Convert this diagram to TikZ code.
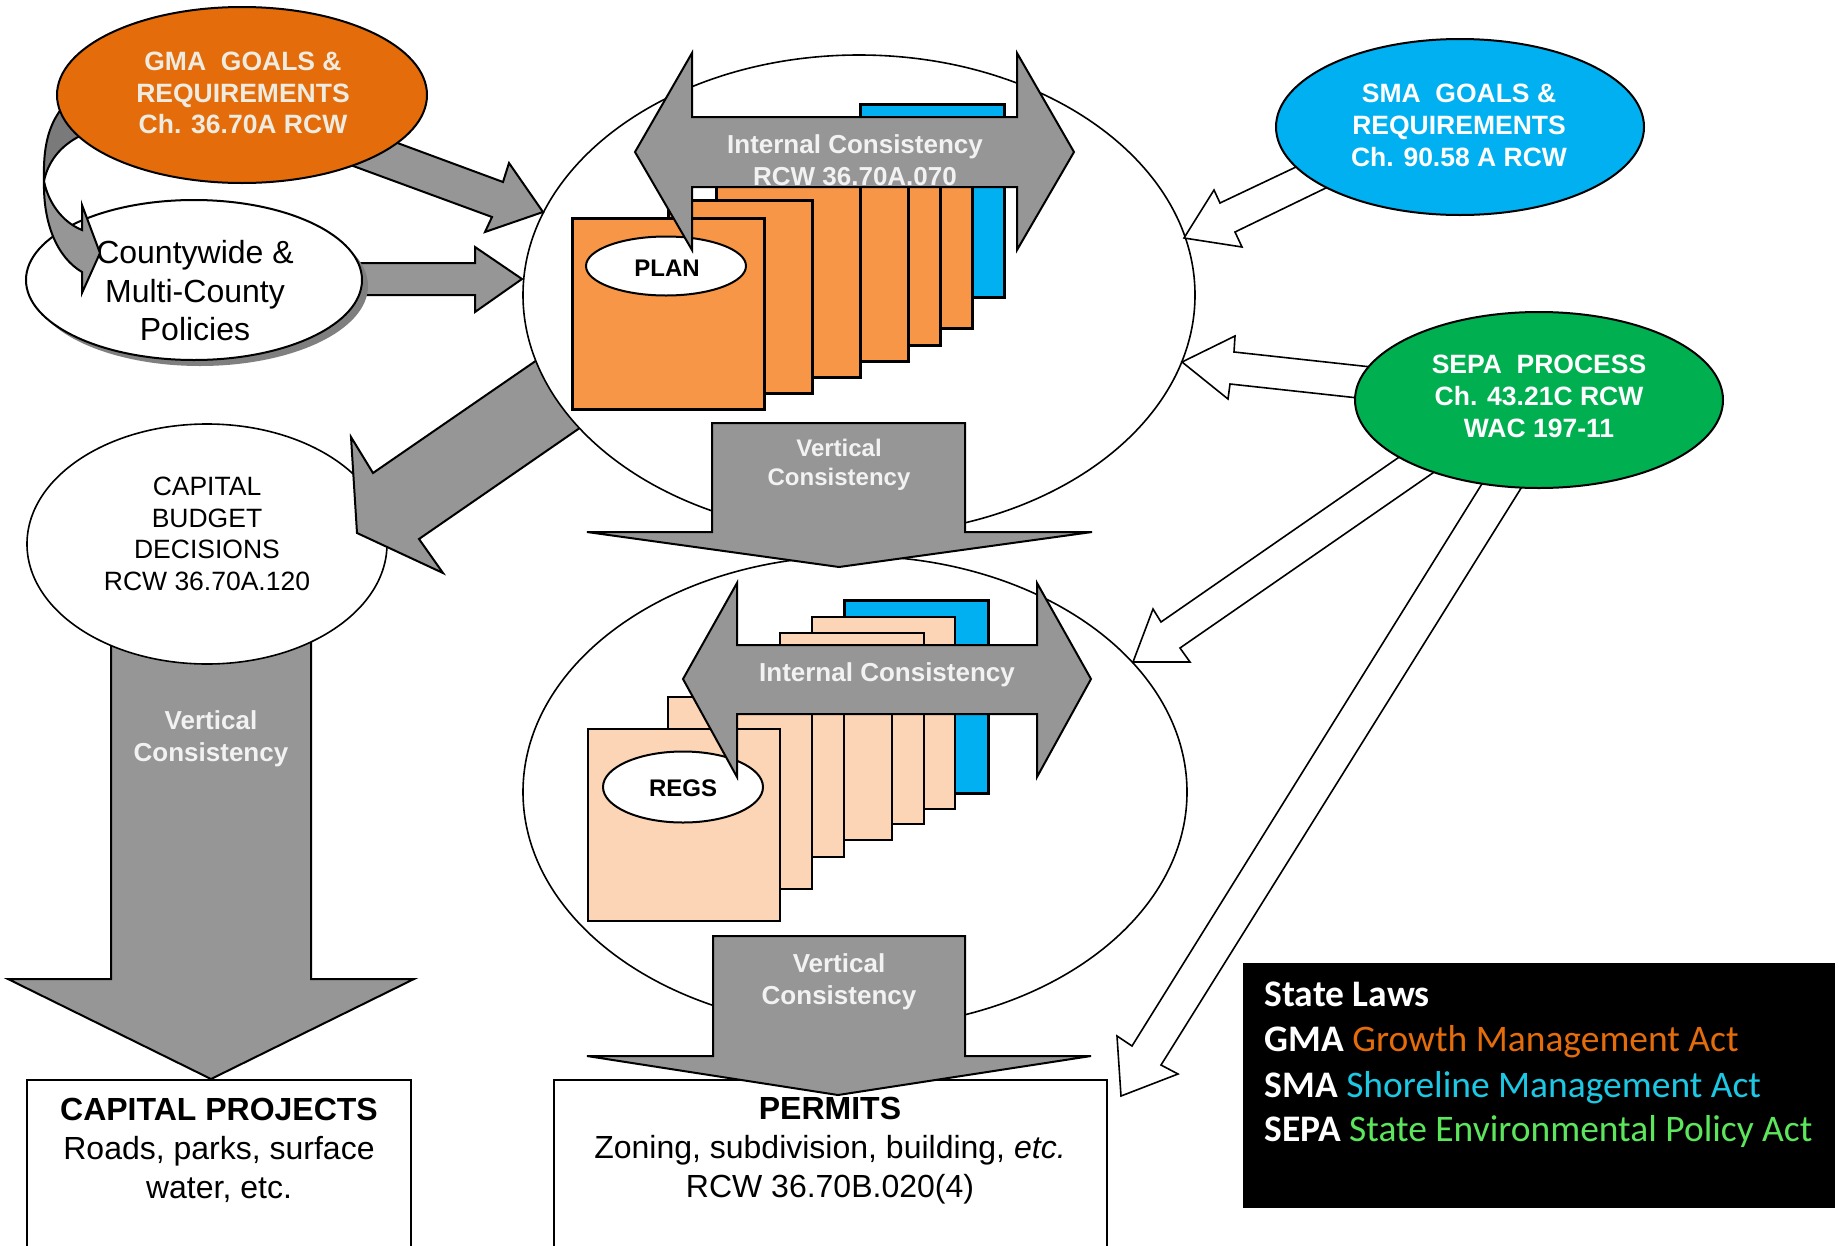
\documentclass[tikz,border=0pt]{standalone}
\usepackage{fontspec}
\setmainfont{Liberation Sans}
\newfontfamily\legfont{Carlito}
\usetikzlibrary{shapes.geometric}
\newcommand\myfs[2]{\fontsize{#1}{#2}\selectfont}
\definecolor{gmaor}{HTML}{E46C0A}
\definecolor{gmatx}{HTML}{EEECE1}
\definecolor{planor}{HTML}{F79646}
\definecolor{regpeach}{HTML}{FBD5B5}
\definecolor{smablue}{HTML}{00B0F0}
\definecolor{sepagreen}{HTML}{00B050}
\definecolor{agrey}{HTML}{969696}
\definecolor{dgrey}{HTML}{7A7A7A}
\definecolor{shadowgrey}{HTML}{7F7F7F}
\definecolor{lgtx}{HTML}{F2F2F2}
\definecolor{legor}{HTML}{E46C0A}
\definecolor{legcy}{HTML}{1CC8E3}
\definecolor{leggr}{HTML}{5CE65C}
\tikzset{
  ell/.style={ellipse, draw=black, inner sep=0pt},
  garrow/.style={draw=black, fill=agrey, line width=2pt, line join=miter},
  harrow/.style={draw=black, fill=white, line width=1.6pt, line join=miter},
  pbox/.style={draw=black, line width=3pt, fill=planor, inner sep=0pt, anchor=north west},
  rbox/.style={draw=black, line width=2.4pt, fill=regpeach, inner sep=0pt, anchor=north west},
  bbox/.style={draw=black, line width=3pt, fill=smablue, inner sep=0pt, anchor=north west},
  arrtext/.style={text=lgtx, align=center},
  lawtext/.style={text=white, align=center, font=\bfseries\myfs{26.5}{32}},
  plaintext/.style={text=black, align=center},
  legline/.style={anchor=base west, text=white, font=\legfont\myfs{37.5}{45}},
  outbox/.style={draw=black, line width=2pt, fill=white}
}
\begin{document}
\begin{tikzpicture}[x=1pt,y=-1pt]
\useasboundingbox (0,0) rectangle (1841,1245);
\fill[white] (0,0) rectangle (1841,1245);

% bottom boxes
\draw[outbox] (27,1080) rectangle (411,1260);
\coordinate (cpbox) at (219,1080);
\draw[outbox] (554,1080) rectangle (1107,1260);
\coordinate (pmbox) at (830,1080);

% left vertical consistency arrow
\draw[garrow] (111,560) -- (111,979) -- (8,979) -- (211,1079) -- (414,979) -- (311,979) -- (311,560) -- cycle;
\node[arrtext, font=\bfseries\myfs{26}{32}] (vcleft) at (211,739) {Vertical\\Consistency};

% capital budget ellipse
\node[ell, fill=white, line width=1.6pt, minimum width=360pt, minimum height=240pt] (cb) at (207,544) {};
\node[plaintext, font=\myfs{26.5}{31.5}] (cbt) at (207,534) {CAPITAL\\BUDGET\\DECISIONS\\RCW 36.70A.120};

% arrow plan ellipse -> capital budget
\draw[garrow] (598,318) -- (373,473) -- (351,437) -- (357,533) -- (443,573) -- (419,539) -- (642,385) -- cycle;

% big ellipses
\node[ell, fill=white, line width=1.6pt, minimum width=672pt, minimum height=480pt] (planell) at (859,295) {};
\node[ell, fill=white, line width=1.6pt, minimum width=664pt, minimum height=472pt] (regell) at (855,792) {};

% countywide -> plan arrow
\draw[garrow] (300,263) -- (475,263) -- (475,247) -- (522,279) -- (475,312) -- (475,295) -- (300,295) -- cycle;
% GMA -> plan arrow
\draw[garrow] (338,121) -- (503,182) -- (509,163) -- (543,212) -- (485,232) -- (492,217) -- (296,145) -- cycle;

% countywide ellipse with shadow
\fill[shadowgrey] (200,286) ellipse [x radius=168pt, y radius=80pt];
\node[ell, fill=white, line width=2pt, minimum width=336pt, minimum height=160pt] (cw) at (194,280) {};
\node[plaintext, font=\myfs{32}{38.5}] (cwt) at (195,291) {Countywide \&\\Multi-County\\Policies};

% curved arrow GMA -> countywide
\draw[draw=black, fill=dgrey, line width=2pt, line join=round]
  (62,108) .. controls (48,126) and (43,148) .. (44,181)
  .. controls (48,162) and (60,146) .. (80,136) -- (95,120) -- cycle;
\draw[garrow]
  (44,181) .. controls (43,225) and (58,258) .. (82,272)
  -- (82,293) -- (100,253) -- (82,205) -- (82,230)
  .. controls (62,222) and (48,202) .. (44,181) -- cycle;

% GMA ellipse
\node[ell, fill=gmaor, line width=2pt, minimum width=370pt, minimum height=176pt] (gma) at (242,95) {};
\node[text=gmatx, align=center, font=\bfseries\myfs{26.5}{31.5}] (gmat) at (243,93) {GMA\ \ GOALS \&\\REQUIREMENTS\\Ch. 36.70A RCW};

% top stack
\node[bbox, minimum width=144pt, minimum height=193pt] (pb) at (859,103) {};
\node[pbox, minimum width=144pt, minimum height=192pt] (p6) at (827,135) {};
\node[pbox, minimum width=144pt, minimum height=192pt] (p5) at (795,152) {};
\node[pbox, minimum width=144pt, minimum height=192pt] (p4) at (763,168) {};
\node[pbox, minimum width=144pt, minimum height=191pt] (p3) at (715,185) {};
\node[pbox, minimum width=144pt, minimum height=193pt] (p2) at (667,199) {};
\node[pbox, minimum width=192pt, minimum height=191pt] (p1) at (571,217) {};
\node[ell, fill=white, line width=2pt, minimum width=160pt, minimum height=59pt, font=\bfseries\myfs{24}{28}] (plan) at (666,266) {};
\node[font=\bfseries\myfs{24}{28}] (plant) at (667,268) {PLAN};
\draw[garrow] (635,152) -- (692,53) -- (692,117) -- (1017,117) -- (1017,53) -- (1074,152) -- (1017,250) -- (1017,187) -- (692,187) -- (692,250) -- cycle;
\node[arrtext, font=\bfseries\myfs{26}{32}] (ictop) at (855,160) {Internal Consistency\\RCW 36.70A.070};

% bottom stack
\node[bbox, minimum width=144pt, minimum height=193pt] (rb) at (843,599) {};
\node[rbox, minimum width=143pt, minimum height=192pt] (r6) at (811,616) {};
\node[rbox, minimum width=144pt, minimum height=191pt] (r5) at (779,632) {};
\node[rbox, minimum width=144pt, minimum height=192pt] (r4) at (747,647) {};
\node[rbox, minimum width=144pt, minimum height=192pt] (r3) at (699,664) {};
\node[rbox, minimum width=144pt, minimum height=192pt] (r2) at (667,696) {};
\node[rbox, minimum width=192pt, minimum height=192pt] (r1) at (587,728) {};
\node[ell, fill=white, line width=2pt, minimum width=160pt, minimum height=71pt] (regs) at (683,787) {};
\node[font=\bfseries\myfs{24}{28}] (regst) at (683,788) {REGS};
\draw[garrow] (683,679) -- (737,583) -- (737,645) -- (1037,645) -- (1037,583) -- (1091,679) -- (1037,777) -- (1037,714) -- (737,714) -- (737,777) -- cycle;
\node[arrtext, font=\bfseries\myfs{26}{32}] (icbot) at (887,675) {Internal Consistency};

% vertical consistency arrows (center)
\draw[garrow] (712,423) -- (712,532) -- (587,532) -- (839,567) -- (1092,532) -- (965,532) -- (965,423) -- cycle;
\node[arrtext, font=\bfseries\myfs{24}{29}] (vctop) at (839,465) {Vertical\\Consistency};
\draw[garrow] (713,936) -- (713,1056) -- (587,1056) -- (838,1095) -- (1091,1056) -- (965,1056) -- (965,936) -- cycle;
\node[arrtext, font=\bfseries\myfs{26}{32}] (vcbot) at (839,982) {Vertical\\Consistency};

% box texts
\node[plaintext, font=\myfs{32}{39}] (cpt) at (219,1150) {\textbf{CAPITAL PROJECTS}\\Roads, parks, surface\\water, etc.};
\node[plaintext, font=\myfs{32}{39}] (pmt) at (830,1151) {\textbf{PERMITS}\\Zoning, subdivision, building, \textit{etc.}\\RCW 36.70B.020(4)};

% hollow arrows
\draw[harrow] (1334,149) -- (1220,203) -- (1214,190) -- (1184,238) -- (1242,247) -- (1235,232) -- (1363,170) -- cycle;
\draw[harrow] (1408,371) -- (1234,352) -- (1235,336) -- (1182,362) -- (1228,399) -- (1230,384) -- (1395,402) -- cycle;
\draw[harrow] (1431,435) -- (1161,622) -- (1153,609) -- (1133,662) -- (1190,662) -- (1180,648) -- (1466,450) -- cycle;
\draw[harrow] (1503,450) -- (1132,1046) -- (1117,1036) -- (1121,1096) -- (1178,1074) -- (1161,1065) -- (1543,453) -- cycle;

% SMA and SEPA ellipses
\node[ell, fill=smablue, line width=2pt, minimum width=368pt, minimum height=176pt] (sma) at (1460,127) {};
\node[lawtext] (smat) at (1459,125) {SMA\ \ GOALS \&\\REQUIREMENTS\\Ch. 90.58 A RCW};
\node[ell, fill=sepagreen, line width=2pt, minimum width=368pt, minimum height=176pt] (sepa) at (1539,400) {};
\node[lawtext] (sepat) at (1539,396) {SEPA\ \ PROCESS\\Ch. 43.21C RCW\\WAC 197-11};

% legend
\fill[black] (1243,963) rectangle (1835,1208);
\node[legline] (lg1) at (1261,1006) {\bfseries State Laws};
\node[legline] (lg2) at (1261,1051) {\textbf{GMA} \textcolor{legor}{Growth Management Act}};
\node[legline] (lg3) at (1261,1097) {\textbf{SMA} \textcolor{legcy}{Shoreline Management Act}};
\node[legline] (lg4) at (1261,1141) {\textbf{SEPA} \textcolor{leggr}{State Environmental Policy Act}};
\end{tikzpicture}
\end{document}
